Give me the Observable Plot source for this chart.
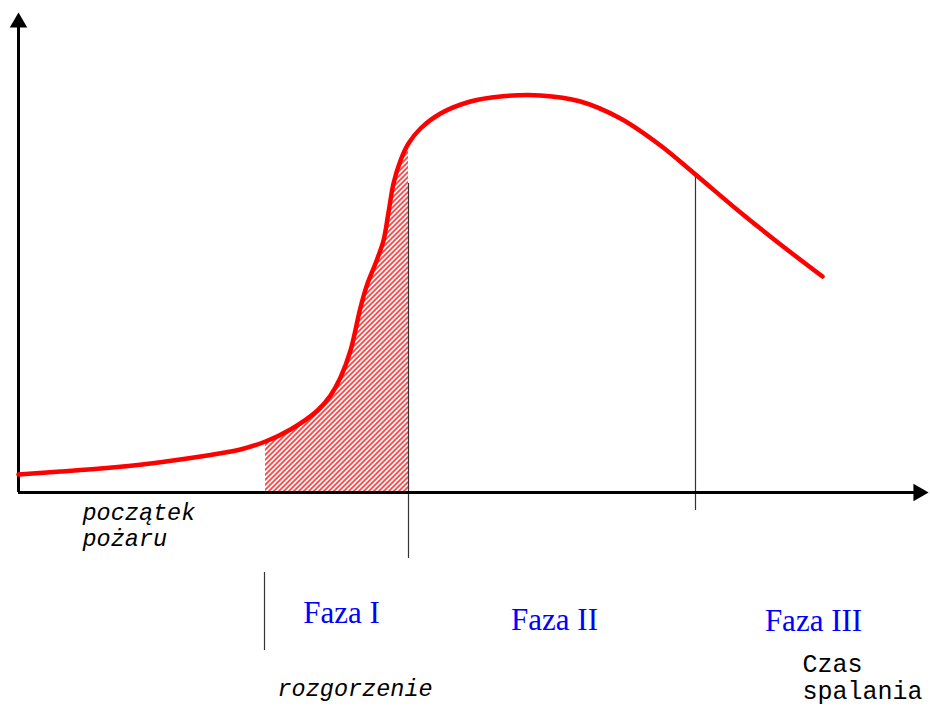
<!DOCTYPE html>
<html>
<head>
<meta charset="utf-8">
<script src="https://cdn.jsdelivr.net/npm/d3@7"></script>
<script src="https://cdn.jsdelivr.net/npm/@observablehq/plot@0.6"></script>
<style>
  html, body { margin: 0; padding: 0; background: #fff; }
  #chart svg { display: block; }
</style>
</head>
<body>
<div id="chart"></div>
<script>
// Curve: time (arbitrary units) vs intensity (arbitrary units)
const curveT = [0, 42, 82, 132, 182, 222, 247, 272, 299, 312, 322, 332, 342, 349, 357, 365, 370, 375, 382, 390, 402, 422, 452, 482, 522, 562, 602, 642, 677, 722, 762, 804];
const curveV = [18, 21, 24, 29, 36, 43, 51, 63, 82, 97, 115, 142, 185, 209, 229, 252, 280, 309, 332, 349, 364, 379, 391, 396, 397, 391, 374, 347, 318, 280, 248, 216];

// hatched phase I interval
const hatchStart = 247;
const hatchEnd = 390;

// phase boundary markers
const markerT = [390, 677, 246];
const markerTop = [309, 317, -80];
const markerBottom = [-66, -18, -158];

// axis extents
const axisXEnd = 905;
const axisYEnd = 465;

// labels
const phaseLabels = ["Faza I", "Faza II", "Faza III"];
const phaseT = [323, 536, 795];
const phaseV = [-130, -137, -138];

const italicLabels = ["początek\npożaru", "rozgorzenie"];
const italicT = [64, 259];
const italicV = [-53, -203];

const timeLabel = ["Czas\nspalania"];
const timeT = [784];
const timeV = [-206];

const curve = curveT.map((t, i) => ({t, v: curveV[i]}));
const hatch = curve.filter(d => d.t >= hatchStart && d.t <= hatchEnd);
const markers = markerT.map((t, i) => ({t, top: markerTop[i], bottom: markerBottom[i]}));
const phases = phaseLabels.map((s, i) => ({s, t: phaseT[i], v: phaseV[i]}));
const italics = italicLabels.map((s, i) => ({s, t: italicT[i], v: italicV[i]}));
const times = timeLabel.map((s, i) => ({s, t: timeT[i], v: timeV[i]}));

const svg = Plot.plot({
  width: 930,
  height: 706,
  margin: 0,
  x: {domain: [0, 910], range: [18, 928], axis: null},
  y: {domain: [0, 480], range: [492, 12], axis: null},
  style: {background: "#fff"},
  marks: [
    Plot.areaY(hatch, {x: "t", y: "v", fill: "url(#hatch)", curve: "catmull-rom"}),
    Plot.ruleX(markers, {x: "t", y1: "bottom", y2: "top", stroke: "#333", strokeWidth: 1.2}),
    Plot.ruleY([0], {x1: 0, x2: axisXEnd, stroke: "#000", strokeWidth: 3}),
    Plot.ruleX([0], {y1: 0, y2: axisYEnd, stroke: "#000", strokeWidth: 3}),
    Plot.dot([{t: 0, v: 470}], {x: "t", y: "v", symbol: "triangle", r: 6.5, fill: "#000", stroke: null}),
    Plot.dot([{t: 900, v: 0}], {x: "t", y: "v", symbol: "triangle", r: 6.5, fill: "#000", stroke: null, rotate: 90}),
    Plot.line(curve, {x: "t", y: "v", stroke: "#ff0000", strokeWidth: 4.5, curve: "catmull-rom"}),
    Plot.text(phases, {x: "t", y: "v", text: "s", fill: "#0000ff", fontSize: 31, fontFamily: "Liberation Serif", textAnchor: "middle", lineAnchor: "bottom"}),
    Plot.text(italics, {x: "t", y: "v", text: "s", fill: "#000", fontSize: 23.5, fontStyle: "italic", fontFamily: "Liberation Mono", textAnchor: "start", lineAnchor: "bottom", lineHeight: 1.1}),
    Plot.text(times, {x: "t", y: "v", text: "s", fill: "#000", fontSize: 25, fontFamily: "Liberation Mono", textAnchor: "start", lineAnchor: "bottom", lineHeight: 1.08})
  ]
});

// hatch pattern definition
const ns = "http://www.w3.org/2000/svg";
const defs = document.createElementNS(ns, "defs");
const pat = document.createElementNS(ns, "pattern");
pat.setAttribute("id", "hatch");
pat.setAttribute("patternUnits", "userSpaceOnUse");
pat.setAttribute("width", "5");
pat.setAttribute("height", "5");
const p = document.createElementNS(ns, "path");
p.setAttribute("d", "M-1,1 l2,-2 M0,5 l5,-5 M4,6 l2,-2");
p.setAttribute("stroke", "#ff4545");
p.setAttribute("stroke-width", "1.8");
pat.appendChild(p);
defs.appendChild(pat);
svg.insertBefore(defs, svg.firstChild);

document.getElementById("chart").appendChild(svg);
</script>
</body>
</html>
